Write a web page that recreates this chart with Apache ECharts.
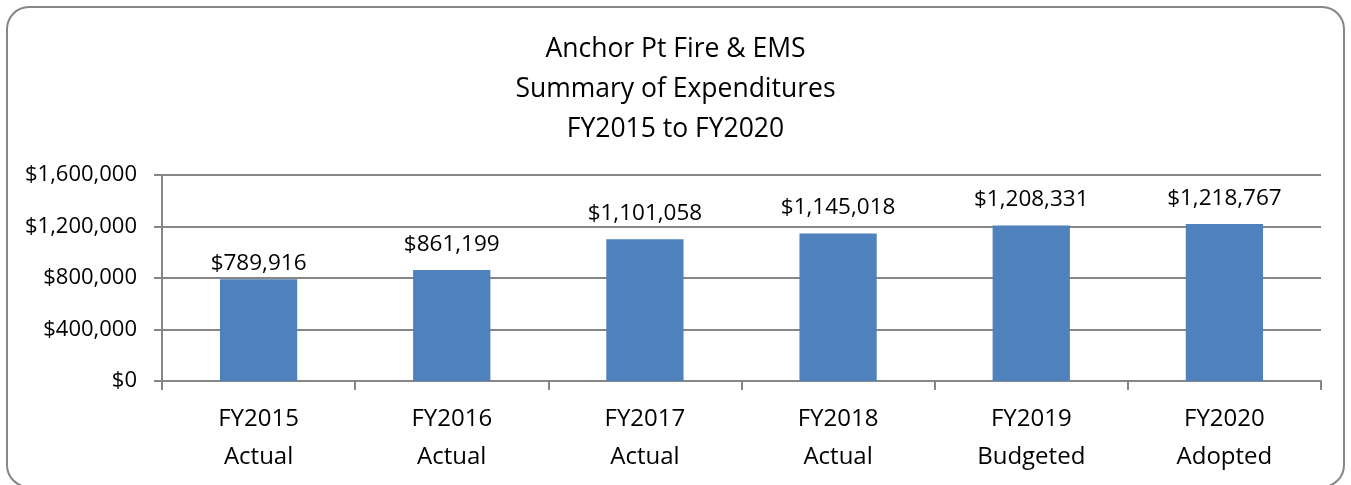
<!DOCTYPE html>
<html lang="en">

<head>
  <meta charset="UTF-8">
  <title>Anchor Pt Fire & EMS</title>
  <style>
    html,
    body {
      margin: 0;
      height: 100%;
      width: 100%;
      background: #fff;
    }
  </style>
</head>

<body>
  <div id="chart" style="width:1351px;height:485px"></div>
  <script src="https://cdn.jsdelivr.net/npm/echarts@6/dist/echarts.min.js"></script>
  <script>
    const titleLines = ['Anchor Pt Fire & EMS', 'Summary of Expenditures', 'FY2015 to FY2020']
    const categories = ['FY2015\nActual', 'FY2016\nActual', 'FY2017\nActual', 'FY2018\nActual', 'FY2019\nBudgeted', 'FY2020\nAdopted']
    const expenditures = [789916, 861199, 1101058, 1145018, 1208331, 1218767]

    const fontFamily = '"Open Sans", "Noto Sans", sans-serif'
    const gray = '#868686'

    function money(v) {
      return '$' + Number(v).toLocaleString('en-US')
    }

    // first label sits closer to its bar than the others in the original
    const barData = expenditures.map((v, i) => {
      return i === 0 ? { value: v, label: { distance: 4 } } : v
    })

    const option = {
      animation: false,
      textStyle: { fontFamily: fontFamily },
      title: {
        text: titleLines.join('\n'),
        left: 'center',
        top: 24,
        textStyle: {
          fontFamily: fontFamily,
          fontSize: 26.5,
          fontWeight: 'normal',
          color: '#000',
          lineHeight: 40
        }
      },
      graphic: [{
        type: 'rect',
        shape: { x: 7, y: 7, width: 1337, height: 480, r: 22 },
        style: { fill: 'none', stroke: gray, lineWidth: 2 },
        silent: true
      }],
      grid: {
        left: 162,
        right: 30,
        top: 175,
        bottom: 104,
        containLabel: false
      },
      xAxis: {
        type: 'category',
        data: categories,
        axisLine: { show: true, lineStyle: { color: gray, width: 2 } },
        axisTick: { show: true, alignWithLabel: false, length: 9, lineStyle: { color: gray, width: 2 } },
        axisLabel: {
          color: '#000',
          fontSize: 24,
          lineHeight: 38,
          margin: 19,
          interval: 0
        }
      },
      yAxis: {
        type: 'value',
        min: 0,
        max: 1600000,
        interval: 400000,
        axisLine: { show: true, lineStyle: { color: gray, width: 2 } },
        axisTick: { show: true, length: 8, lineStyle: { color: gray, width: 2 } },
        splitLine: { show: true, lineStyle: { color: gray, width: 2 } },
        axisLabel: {
          color: '#000',
          fontSize: 22,
          margin: 25,
          formatter: money
        }
      },
      series: [{
        type: 'bar',
        data: barData,
        barWidth: '40%',
        itemStyle: { color: '#4F81BD' },
        label: {
          show: true,
          position: 'top',
          distance: 14,
          color: '#000',
          fontSize: 22.5,
          formatter: function (p) { return money(p.value) }
        }
      }]
    }

    const myChart = echarts.init(document.getElementById('chart'))
    myChart.setOption(option)
  </script>
</body>

</html>
